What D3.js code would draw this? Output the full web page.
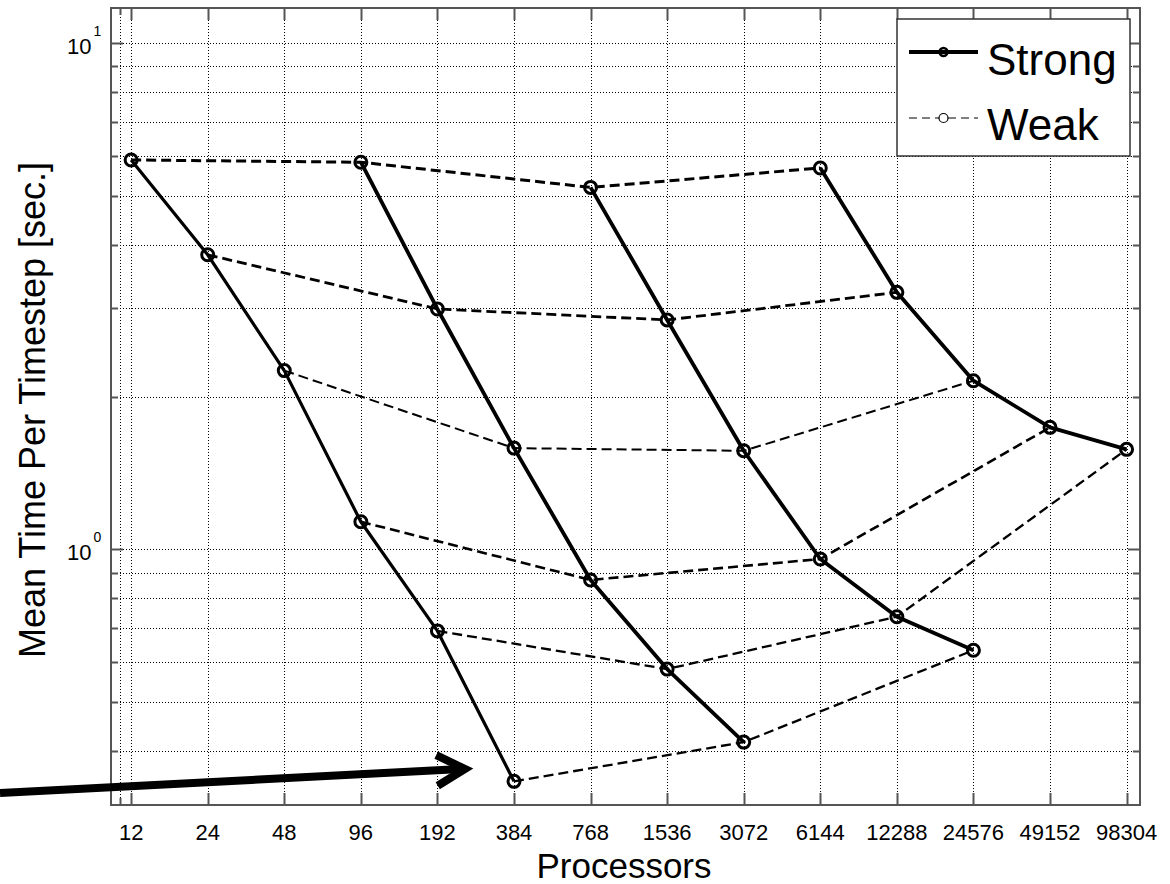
<!DOCTYPE html>
<html>
<head>
<meta charset="utf-8">
<script src="https://cdn.jsdelivr.net/npm/d3@7"></script>
<style>
  body { margin: 0; background: #fff; }
  svg { display: block; font-family: "Liberation Sans", Arial, Helvetica, sans-serif; }
</style>
</head>
<body>
<svg id="chart" width="1170" height="884"></svg>
<script>
// processor counts (x ticks)
const procs = [12, 24, 48, 96, 192, 384, 768, 1536, 3072, 6144, 12288, 24576, 49152, 98304];

// strong scaling runs: first processor count + mean time per timestep
const strongStarts = [12, 96, 768, 6144];
const strong1 = [5.88, 3.82, 2.255, 1.134, 0.69, 0.348];
const strong2 = [5.82, 2.985, 1.585, 0.87, 0.58, 0.416];
const strong3 = [5.19, 2.84, 1.566, 0.957, 0.736, 0.632];
const strong4 = [5.67, 3.22, 2.154, 1.742, 1.576];

const yMajor = [1, 10];
const yMinor = [0.4, 0.5, 0.6, 0.7, 0.8, 0.9, 2, 3, 4, 5, 6, 7, 8, 9];

const svg = d3.select("#chart");
const pL = 111, pR = 1140, pT = 8, pB = 805;

const x = d3.scaleLog().base(2).domain([10, 111000]).range([pL, pR]);
const y = d3.scaleLog().domain([0.3125, 11.74]).range([pB, pT]);

// build point lists for each strong run
const strongRuns = [strong1, strong2, strong3, strong4].map((vals, k) => {
  const i0 = procs.indexOf(strongStarts[k]);
  return vals.map((v, j) => ({ p: procs[i0 + j], t: v }));
});

// weak scaling: j-th point of each strong run
const weakRuns = [];
for (let j = 0; j < 6; j++) {
  weakRuns.push(strongRuns.filter(r => r.length > j).map(r => r[j]));
}
const weakWidths = [3, 2.8, 2, 2.6, 2.3, 2.3];

// grid (dotted)
const grid = svg.append("g").attr("stroke", "#000").attr("stroke-width", 1)
  .attr("stroke-dasharray", "1,2").attr("shape-rendering", "crispEdges");
grid.selectAll(".gx").data(procs.concat([10.8])).enter().append("line")
  .attr("x1", d => Math.round(x(d)) + 0.5).attr("x2", d => Math.round(x(d)) + 0.5)
  .attr("y1", pT).attr("y2", pB);
grid.selectAll(".gy").data(yMajor.concat(yMinor)).enter().append("line")
  .attr("y1", d => Math.round(y(d)) + 0.5).attr("y2", d => Math.round(y(d)) + 0.5)
  .attr("x1", pL).attr("x2", pR);

const line = d3.line().x(d => x(d.p)).y(d => y(d.t));

// weak lines
svg.append("g").selectAll("path").data(weakRuns).enter().append("path")
  .attr("d", line).attr("fill", "none").attr("stroke", "#000")
  .attr("stroke-width", (d, i) => weakWidths[i])
  .attr("stroke-dasharray", "10,5");

// strong lines
svg.append("g").selectAll("path").data(strongRuns).enter().append("path")
  .attr("d", line).attr("fill", "none").attr("stroke", "#000")
  .attr("stroke-width", (d, i) => i === 0 ? 3.2 : 3.8)
  .attr("stroke-linejoin", "round");

// markers
svg.append("g").selectAll("circle").data(strongRuns.flat()).enter().append("circle")
  .attr("cx", d => x(d.p)).attr("cy", d => y(d.t)).attr("r", 6)
  .attr("fill", "none").attr("stroke", "#000").attr("stroke-width", 3);

// axes box and ticks
const ax = svg.append("g").attr("stroke", "#555").attr("stroke-width", 2);
ax.append("rect").attr("x", pL).attr("y", pT).attr("width", pR - pL)
  .attr("height", pB - pT).attr("fill", "none");
const xt = procs.map(p => ({ v: p, len: 12 })).concat([{ v: 10.8, len: 7 }]);
xt.forEach(t => {
  const px = Math.round(x(t.v)) + 0.5;
  ax.append("line").attr("x1", px).attr("x2", px).attr("y1", pB).attr("y2", pB - t.len);
  ax.append("line").attr("x1", px).attr("x2", px).attr("y1", pT).attr("y2", pT + t.len);
});
const yt = yMajor.map(v => ({ v, len: 12 })).concat(yMinor.map(v => ({ v, len: 7 })));
yt.forEach(t => {
  const py = Math.round(y(t.v)) + 0.5;
  ax.append("line").attr("y1", py).attr("y2", py).attr("x1", pL).attr("x2", pL + t.len);
  ax.append("line").attr("y1", py).attr("y2", py).attr("x1", pR).attr("x2", pR - t.len);
});

// x tick labels
svg.append("g").selectAll("text").data(procs).enter().append("text")
  .attr("x", d => x(d)).attr("y", 840).attr("text-anchor", "middle")
  .attr("font-size", 22).text(d => d);

// y tick labels (10^k)
const yl = svg.append("g").selectAll("text").data(yMajor).enter().append("text")
  .attr("x", 67).attr("y", d => y(d) + 10.7)
  .attr("font-size", 22);
yl.append("tspan").text("10");
yl.append("tspan").attr("dx", 2).attr("dy", -18).attr("font-size", 14)
  .text(d => Math.round(Math.log10(d)));

// axis titles
svg.append("text").attr("x", 624).attr("y", 878).attr("text-anchor", "middle")
  .attr("font-size", 35).text("Processors");
svg.append("text").attr("transform", "translate(45,410) rotate(-90)")
  .attr("text-anchor", "middle").attr("font-size", 36)
  .text("Mean Time Per Timestep [sec.]");

// legend
const lg = svg.append("g");
lg.append("rect").attr("x", 897).attr("y", 19).attr("width", 233).attr("height", 137)
  .attr("fill", "#fff").attr("stroke", "#333").attr("stroke-width", 1.5);
lg.append("line").attr("x1", 909).attr("x2", 978).attr("y1", 52).attr("y2", 52)
  .attr("stroke", "#000").attr("stroke-width", 4);
lg.append("circle").attr("cx", 943.5).attr("cy", 52).attr("r", 4)
  .attr("fill", "none").attr("stroke", "#000").attr("stroke-width", 2.5);
lg.append("line").attr("x1", 909).attr("x2", 978).attr("y1", 118).attr("y2", 118)
  .attr("stroke", "#000").attr("stroke-width", 1.2).attr("stroke-dasharray", "8,5");
lg.append("circle").attr("cx", 943.5).attr("cy", 118).attr("r", 4.5)
  .attr("fill", "#fff").attr("stroke", "#000").attr("stroke-width", 1.2);
lg.append("text").attr("x", 987).attr("y", 75).attr("font-size", 44).text("Strong");
lg.append("text").attr("x", 987).attr("y", 140).attr("font-size", 44).text("Weak");

// annotation arrow
const tip = [465, 769], tail = [0, 793];
const ang = Math.atan2(tail[1] - tip[1], tail[0] - tip[0]);
const arm = 32, spread = 0.5;
const arrow = svg.append("g").attr("stroke", "#000").attr("fill", "none")
  .attr("stroke-width", 8);
arrow.append("line").attr("x1", tail[0]).attr("y1", tail[1])
  .attr("x2", tip[0] - 4).attr("y2", tip[1]);
arrow.append("path").attr("stroke-linejoin", "miter")
  .attr("d", d3.line()([
    [tip[0] + arm * Math.cos(ang - spread), tip[1] + arm * Math.sin(ang - spread)],
    tip,
    [tip[0] + arm * Math.cos(ang + spread), tip[1] + arm * Math.sin(ang + spread)]
  ]));
</script>
</body>
</html>
